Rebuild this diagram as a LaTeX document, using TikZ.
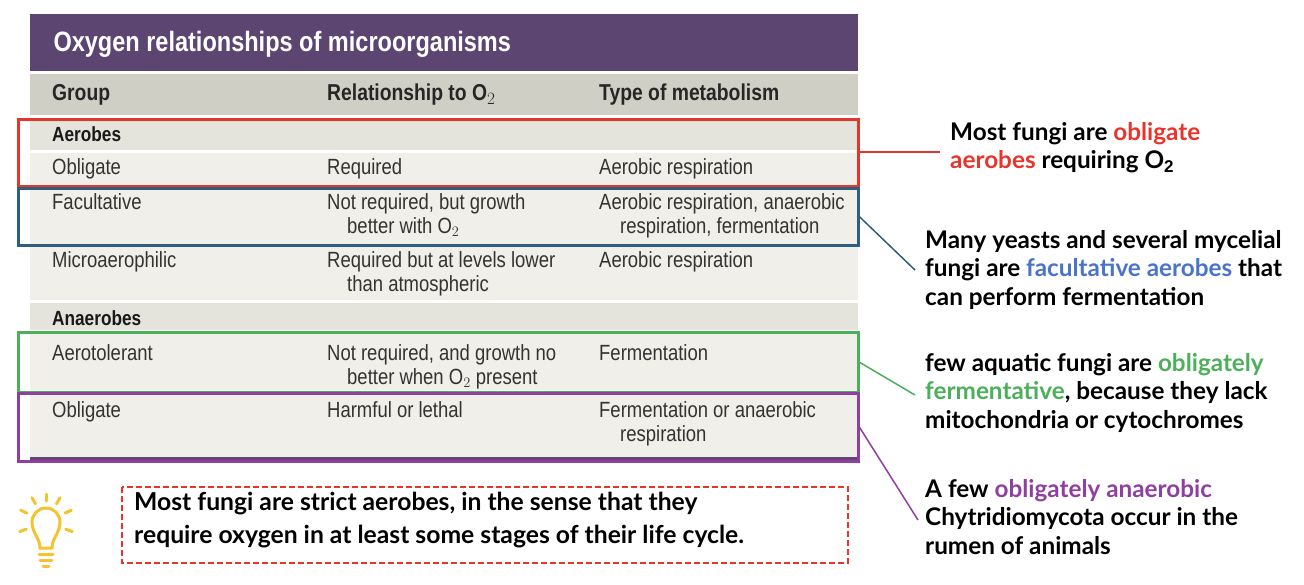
\documentclass[tikz,border=0pt]{standalone}
\usepackage{fontspec}
\setmainfont{Liberation Sans}
\newfontfamily\tabf[FakeStretch=0.84]{Liberation Sans}
\newfontfamily\notef{Lato}
\definecolor{ttl}{HTML}{5C4570}
\definecolor{hdr}{HTML}{D0CFC5}
\definecolor{grp}{HTML}{E4E3DC}
\definecolor{rowc}{HTML}{F0EFE9}
\definecolor{cred}{HTML}{E8352B}
\definecolor{cblue}{HTML}{2E5F80}
\definecolor{cgreen}{HTML}{4CAF5A}
\definecolor{cpurp}{HTML}{8E3FA0}
\definecolor{tblue}{HTML}{4A74C9}
\definecolor{bulb}{HTML}{F4C430}
\begin{document}
\begin{tikzpicture}[x=1pt,y=-1pt,
 cell/.style={anchor=north west,inner sep=0pt,font=\tabf\fontsize{22}{24}\selectfont,text=black!80,align=left},
 hcell/.style={cell,font=\tabf\bfseries\fontsize{23}{24}\selectfont,text=black!85},
 gcell/.style={cell,font=\tabf\bfseries\fontsize{20.5}{20}\selectfont,text=black!90},
 note/.style={anchor=north west,inner sep=0pt,font=\notef\bfseries\fontsize{24.3}{28.5}\selectfont,align=left},
 hl/.style={line width=2.5pt}]
\useasboundingbox (0,0) rectangle (1304,584);
\fill[ttl] (30,14) rectangle (858,71);
\node[anchor=west,text=white,font=\tabf\bfseries\fontsize{28}{30}\selectfont] (title) at (50,44) {Oxygen relationships of microorganisms};
\fill[hdr] (30,74) rectangle (858,115);
\fill[grp] (30,120) rectangle (858,150);
\fill[rowc] (30,153) rectangle (858,186);
\fill[rowc] (30,188) rectangle (858,245);
\fill[rowc] (30,247) rectangle (858,300);
\fill[grp] (30,303) rectangle (858,330);
\fill[rowc] (30,333) rectangle (858,390);
\fill[rowc] (30,393) rectangle (858,457);
\fill[ttl!80!cpurp] (30,457) rectangle (858,463);
\node[hcell] (h1) at (52,84) {Group};
\node[hcell] (h2) at (327,84) {Relationship to O$_2$};
\node[hcell] (h3) at (599,84) {Type of metabolism};
\node[gcell] (g1) at (52,126) {Aerobes};
\node[cell] (a1) at (52,158) {Obligate};
\node[cell] (a2) at (327,158) {Required};
\node[cell] (a3) at (599,158) {Aerobic respiration};
\node[cell] (b1) at (52,193) {Facultative};
\node[cell] (b2) at (327,193) {Not required, but growth\\\hspace*{20pt}better with O$_2$};
\node[cell] (b3) at (599,193) {Aerobic respiration, anaerobic\\\hspace*{21pt}respiration, fermentation};
\node[cell] (c1) at (52,251) {Microaerophilic};
\node[cell] (c2) at (327,251) {Required but at levels lower\\\hspace*{20pt}than atmospheric};
\node[cell] (c3) at (599,251) {Aerobic respiration};
\node[gcell] (g2) at (52,310) {Anaerobes};
\node[cell] (d1) at (52,344) {Aerotolerant};
\node[cell] (d2) at (327,344) {Not required, and growth no\\\hspace*{20pt}better when O$_2$ present};
\node[cell] (d3) at (599,344) {Fermentation};
\node[cell] (e1) at (52,401) {Obligate};
\node[cell] (e2) at (327,401) {Harmful or lethal};
\node[cell] (e3) at (599,401) {Fermentation or anaerobic\\\hspace*{21pt}respiration};
% highlight boxes
\node[draw=cred,hl,minimum width=840pt,minimum height=67pt,anchor=north west,inner sep=0pt] (rb) at (17,118) {};
\node[draw=cblue,hl,minimum width=840pt,minimum height=57pt,anchor=north west,inner sep=0pt] (bb) at (17,187) {};
\node[draw=cgreen,hl,minimum width=840pt,minimum height=60pt,anchor=north west,inner sep=0pt] (gb) at (17,331) {};
\node[draw=cpurp,hl,minimum width=840pt,minimum height=68pt,anchor=north west,inner sep=0pt] (pb) at (17,392) {};
% notes
\node[note] (n1) at (950,122) {Most fungi are \textcolor{cred}{obligate}\\\textcolor{cred}{aerobes} requiring O$_\mathbf{2}$};
\node[note] (n2) at (925,230) {Many yeasts and several mycelial\\fungi are \textcolor{tblue}{facultative aerobes} that\\can perform fermentation};
\node[note] (n3) at (925,353) {few aquatic fungi are \textcolor{cgreen}{obligately}\\\textcolor{cgreen}{fermentative}, because they lack\\mitochondria or cytochromes};
\node[note] (n4) at (925,479) {A few \textcolor{cpurp}{obligately anaerobic}\\Chytridiomycota occur in the\\rumen of animals};
\coordinate (k1) at (940,152);
\coordinate (k2) at (915,270);
\coordinate (k3) at (915,395);
\coordinate (k4) at (918,520);
\draw[cred,line width=1.5pt] (rb.east|-k1) -- (k1);
\draw[cblue,line width=1.5pt] (bb.east) -- (k2);
\draw[cgreen,line width=1.5pt] (gb.east) -- (k3);
\draw[cpurp,line width=1.5pt] (pb.east) -- (k4);
% dashed box
\draw[cred,line width=1.8pt,dash pattern=on 6pt off 3pt] (122,487) rectangle (848,563);
\node[note,font=\notef\bfseries\fontsize{24.7}{33}\selectfont] (dt) at (134,492) {Most fungi are strict aerobes, in the sense that they\\require oxygen in at least some stages of their life cycle.};
% bulb
\begin{scope}[bulb,line width=3pt,line cap=round]
\draw (40,548) .. controls (40,538) and (32,533) .. (32,522) arc[start angle=180,end angle=360,radius=14] .. controls (60,533) and (52,538) .. (52,548) -- cycle;
\draw (39,554) -- (53,554); \draw (40,560) -- (52,560); \draw (43,566) -- (49,566);
\foreach \a in {90,60,120,25,155,-20,200} \draw ({46+21*cos(\a)},{522-21*sin(\a)}) -- ({46+28*cos(\a)},{522-28*sin(\a)});
\end{scope}
\end{tikzpicture}
\end{document}
